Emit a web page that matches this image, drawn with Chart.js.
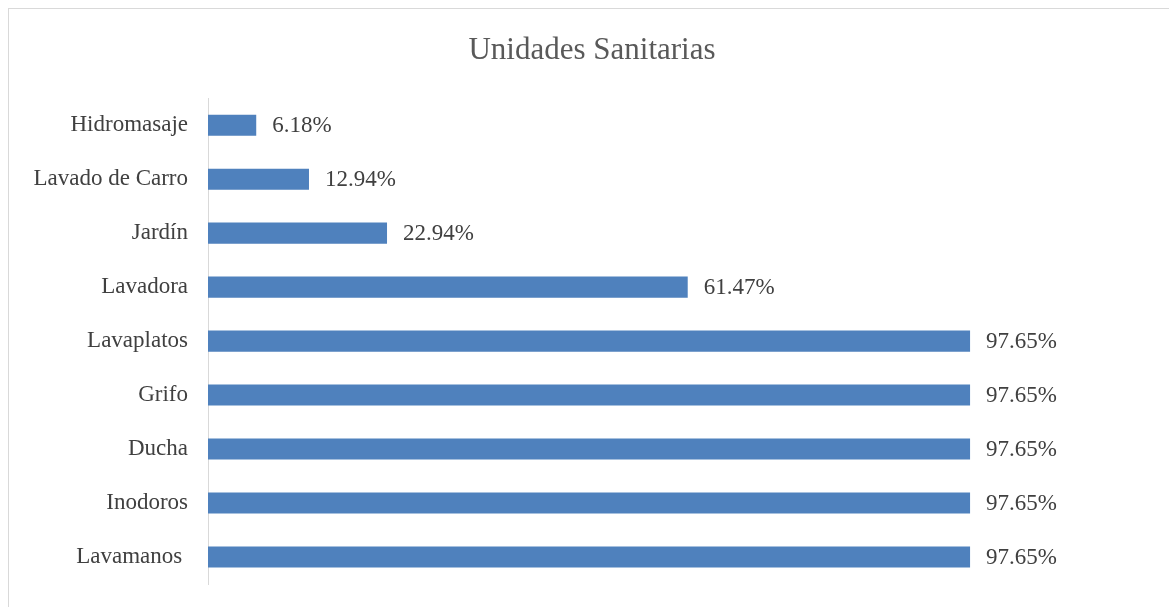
<!DOCTYPE html>
<html>
<head>
<meta charset="utf-8">
<script src="https://cdn.jsdelivr.net/npm/chart.js@4/dist/chart.umd.min.js"></script>
<style>
    html, body { margin: 0; padding: 0; background: #fff; overflow: hidden; }
    #wrap { position: relative; width: 1169px; height: 607px; }
    #frame {
        position: absolute; left: 8px; top: 8px; width: 1200px; height: 700px;
        border: 1px solid #d9d9d9; pointer-events: none;
    }
</style>
</head>
<body>
<div id="wrap">
    <canvas id="chart"></canvas>
    <div id="frame"></div>
</div>
<script>
const categories = ['Hidromasaje', 'Lavado de Carro', 'Jardín', 'Lavadora', 'Lavaplatos', 'Grifo', 'Ducha', 'Inodoros', 'Lavamanos '];
const percentValues = [6.18, 12.94, 22.94, 61.47, 97.65, 97.65, 97.65, 97.65, 97.65];
const valueLabels = ['6.18%', '12.94%', '22.94%', '61.47%', '97.65%', '97.65%', '97.65%', '97.65%', '97.65%'];

const SERIF = "'Liberation Serif', 'Times New Roman', serif";

// etiquetas de valor a la derecha de cada barra
const barLabels = {
    id: 'barLabels',
    afterDatasetsDraw(chart) {
        const ctx = chart.ctx;
        const meta = chart.getDatasetMeta(0);
        ctx.save();
        ctx.font = '23px ' + SERIF;
        ctx.fillStyle = '#404040';
        ctx.textAlign = 'left';
        ctx.textBaseline = 'middle';
        meta.data.forEach((bar, i) => {
            ctx.fillText(valueLabels[i], bar.x + 16, bar.y + 1);
        });
        ctx.restore();
    }
};

new Chart(document.getElementById('chart'), {
    type: 'bar',
    data: {
        labels: categories,
        datasets: [{
            data: percentValues,
            backgroundColor: '#4f81bd',
            borderWidth: 0,
            barPercentage: 0.39,
            categoryPercentage: 1
        }]
    },
    options: {
        indexAxis: 'y',
        responsive: true,
        maintainAspectRatio: false,
        animation: false,
        layout: { padding: { left: 20, right: 5, top: 0, bottom: 23 } },
        plugins: {
            legend: { display: false },
            tooltip: { enabled: false },
            title: {
                display: true,
                text: 'Unidades Sanitarias',
                color: '#595959',
                font: { family: SERIF, size: 31, weight: 'normal' },
                padding: { top: 32, bottom: 29 }
            }
        },
        scales: {
            x: {
                display: false,
                min: 0,
                max: 122.5
            },
            y: {
                grid: { display: false, drawTicks: false, tickLength: 0 },
                border: { display: true, color: '#d9d9d9', width: 1 },
                ticks: {
                    color: '#404040',
                    padding: 20,
                    font: { family: SERIF, size: 23 }
                },
                afterFit(scale) {
                    scale.width = 188;
                    scale.paddingTop = 0;
                    scale.paddingBottom = 0;
                }
            }
        }
    },
    plugins: [barLabels]
});
</script>
</body>
</html>
